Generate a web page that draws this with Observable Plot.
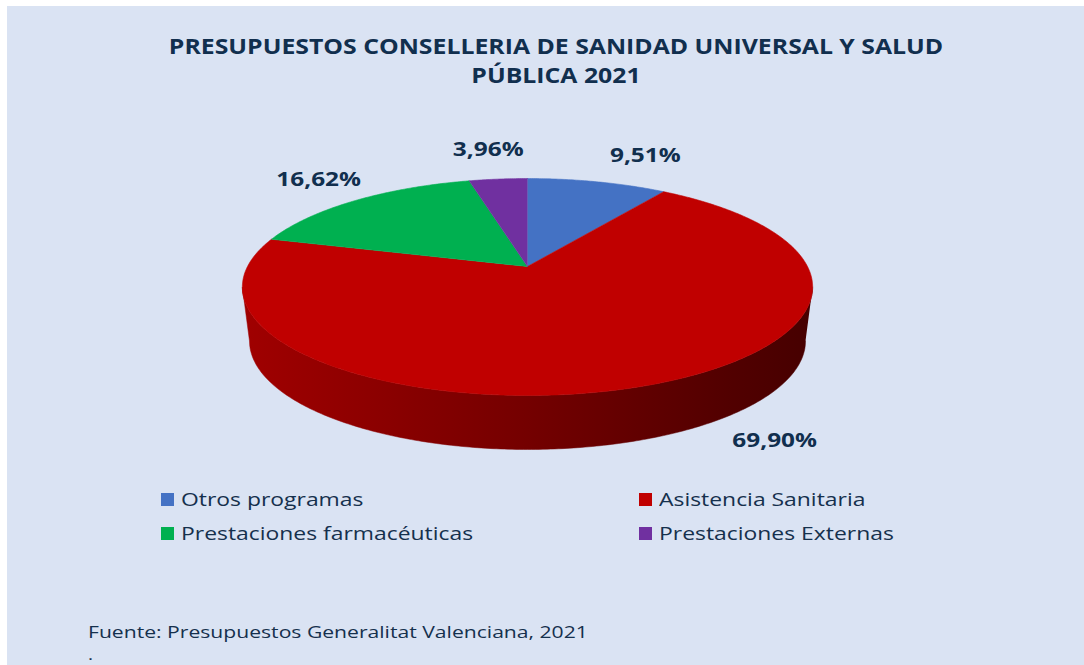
<!DOCTYPE html>
<html>
<head>
<meta charset="utf-8">
<script src="https://cdn.jsdelivr.net/npm/d3@7"></script>
<script src="https://cdn.jsdelivr.net/npm/@observablehq/plot@0.6"></script>
<style>
  html, body { margin: 0; padding: 0; background: #ffffff; }
  #wrap { position: relative; width: 1084px; height: 665px; overflow: hidden; background: #ffffff; font-family: "Open Sans", "DejaVu Sans", sans-serif; }
  #panel { position: absolute; left: 7px; top: 6px; right: 0; bottom: 0; background: #dae3f3; }
  #chart { position: absolute; left: 0; top: 0; }
  #title { position: absolute; left: 56px; width: 1000px; top: 32px; text-align: center; font-weight: 700; font-size: 20.5px; line-height: 29px; color: #112f4e; transform: scaleX(1.21); transform-origin: 500px 0; }
  .leg { position: absolute; display: flex; align-items: center; font-size: 19px; color: #15304d; white-space: nowrap; }
  .sw { width: 13px; height: 13px; margin-right: 7px; flex: none; }
  .lt { display: inline-block; transform: scaleX(1.205); transform-origin: 0 50%; }
  .cap { position: absolute; left: 88px; font-size: 16.5px; color: #15304d; white-space: nowrap; transform: scaleX(1.28); transform-origin: 0 50%; }
  #caption { top: 621px; line-height: 22px; }
  #dot { top: 648px; line-height: 12px; font-size: 15px; }
</style>
</head>
<body>
<div id="wrap">
  <div id="panel"></div>
  <div id="chart"></div>
  <div id="title">PRESUPUESTOS CONSELLERIA DE SANIDAD UNIVERSAL Y SALUD<br>PÚBLICA 2021</div>
  <div id="legend"></div>
  <div id="caption" class="cap">Fuente: Presupuestos Generalitat Valenciana, 2021</div>
  <div id="dot" class="cap">.</div>
</div>
<script>
// ---- data ----
const categories = ["Otros programas", "Asistencia Sanitaria", "Prestaciones farmacéuticas", "Prestaciones Externas"];
const values = [9.51, 69.90, 16.62, 3.96];
const valueLabels = ["9,51%", "69,90%", "16,62%", "3,96%"];

// ---- styles / layout ----
const sliceColors = ["#4472C4", "#C00000", "#00B050", "#7030A0"];
const cx = 527, cy = 266, rx = 280, ry = 104.6;   // pie placement in pixels
const k = 0.189;          // perspective factor
const depth = 54 / ry;    // side thickness in y units
const bottomScale = 0.975;
const labelNudge = [[48, -26], [134, 1], [-37, -21], [-10, -30]];
const legendCols = [161, 639], legendRows = [499, 533];
const labelStretch = 1.22;

function proj(phi, r = 1, sx = 1, off = 0) {
  const c = Math.cos(phi) * r, s = Math.sin(phi) * r;
  const w = 1 + k * c;
  return {x: sx * s / w, y: c / w - off};
}

const total = d3.sum(values);
let acc = 0;
const slices = values.map((v, i) => {
  const a0 = acc / total * 2 * Math.PI;
  acc += v;
  const a1 = acc / total * 2 * Math.PI;
  const n = Math.max(4, Math.ceil((a1 - a0) / (Math.PI / 360)));
  const pts = [{x: 0, y: 0}];
  for (let j = 0; j <= n; j++) pts.push(proj(a0 + (a1 - a0) * j / n));
  return {i, a0, a1, mid: (a0 + a1) / 2, pts};
});

// side band (front visible part of the cylinder)
const phiR = Math.acos(-k), phiL = 2 * Math.PI - phiR;
const side = [];
const ns = 240;
for (let j = 0; j <= ns; j++) side.push(proj(phiR + (phiL - phiR) * j / ns));
for (let j = ns; j >= 0; j--) side.push(proj(phiR + (phiL - phiR) * j / ns, 1, bottomScale, depth));

// labels anchored at slice outer edge (front slice on bottom rim)
const labelMarks = slices.map(s => {
  const front = Math.cos(s.mid) < -k;
  const p = front ? proj(s.mid, 1, bottomScale, depth) : proj(s.mid);
  return Plot.text([{...p, t: valueLabels[s.i]}], {
    x: "x", y: "y", text: "t",
    dx: labelNudge[s.i][0], dy: labelNudge[s.i][1],
    fontSize: 20, fontWeight: 700, fill: "#112f4e",
    fontFamily: "'Open Sans', 'DejaVu Sans', sans-serif"
  });
});

const svg = Plot.plot({
  width: 1084,
  height: 665,
  margin: 0,
  x: {domain: [-1, 1], range: [cx - rx, cx + rx], axis: null},
  y: {domain: [-1, 1], range: [cy + ry, cy - ry], axis: null},
  style: {background: "transparent", overflow: "visible"},
  marks: [
    Plot.line(side, {x: "x", y: "y", fill: "url(#sideGrad)", stroke: "url(#sideGrad)", strokeWidth: 0.5, curve: "linear"}),
    ...slices.map(s => Plot.line(s.pts, {x: "x", y: "y", fill: sliceColors[s.i], stroke: sliceColors[s.i], strokeWidth: 0.6, curve: "linear"})),
    ...labelMarks
  ]
});

const defs = d3.select(svg).insert("defs", ":first-child");
const g = defs.append("linearGradient").attr("id", "sideGrad").attr("x1", "0").attr("x2", "1").attr("y1", "0").attr("y2", "0");
[[0, "#a00000"], [0.12, "#960000"], [0.5, "#740000"], [0.85, "#520000"], [1, "#460000"]].forEach(([o, c]) =>
  g.append("stop").attr("offset", o).attr("stop-color", c));

// widen the label glyphs horizontally about their own anchor
d3.select(svg).selectAll("text").each(function () {
  const t = this.getAttribute("transform") || "";
  this.setAttribute("transform", (t + ` scale(${labelStretch},1)`).trim());
});

document.getElementById("chart").appendChild(svg);

// legend
const legend = document.getElementById("legend");
categories.forEach((c, i) => {
  const item = document.createElement("div");
  item.className = "leg";
  item.style.left = legendCols[i % 2] + "px";
  item.style.top = (legendRows[Math.floor(i / 2)] - 13) + "px";
  item.style.height = "26px";
  const sw = document.createElement("span");
  sw.className = "sw";
  sw.style.background = sliceColors[i];
  const tx = document.createElement("span");
  tx.className = "lt";
  tx.textContent = c;
  item.appendChild(sw);
  item.appendChild(tx);
  legend.appendChild(item);
});
</script>
</body>
</html>
